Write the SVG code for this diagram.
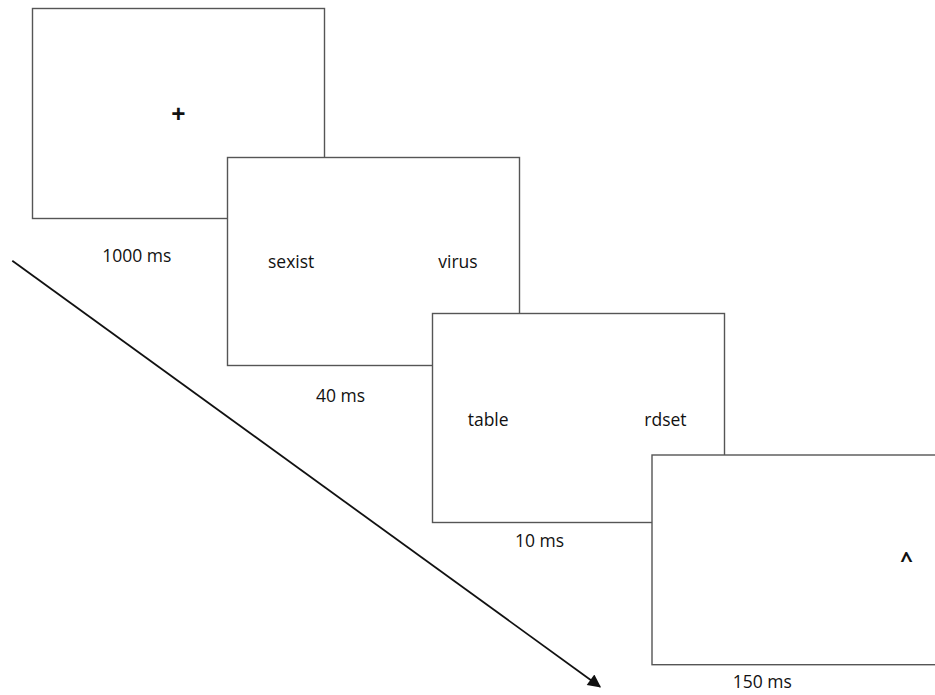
<svg xmlns="http://www.w3.org/2000/svg" width="935" height="695" viewBox="0 0 935 695">
  <defs>
    <style>
      .screen { fill: #ffffff; stroke: #555555; stroke-width: 1.4; }
      .lbl { font-family: "Open Sans", "Liberation Sans", sans-serif; font-size: 17.5px; fill: #111111; }
      .sym { font-family: "Open Sans", "Liberation Sans", sans-serif; font-weight: bold; fill: #111111; }
      .time { stroke: #111111; stroke-width: 1.8; fill: none; }
    </style>
    <marker id="arrowBig" viewBox="0 0 10 10" refX="9" refY="5" markerWidth="16" markerHeight="13" markerUnits="userSpaceOnUse" orient="auto">
      <path d="M0,0 L10,5 L0,10 z" fill="#111111"/>
    </marker>
  </defs>
  <rect width="935" height="695" fill="#ffffff"/>

  <!-- time axis -->
  <g id="connectors">
    <line class="time" x1="12.3" y1="260.7" x2="600" y2="686.7" marker-end="url(#arrowBig)"/>
  </g>

  <!-- fixation screen -->
  <g id="fixation">
    <rect class="screen" x="32.5" y="8.5" width="292" height="210"/>
    <text class="sym" x="178.3" y="123" text-anchor="middle" font-size="25">+</text>
    <text class="lbl" x="102.3" y="261.7">1000 ms</text>
  </g>

  <!-- prime screen -->
  <g id="prime">
    <rect class="screen" x="227.5" y="157.5" width="292" height="208"/>
    <text class="lbl" x="268" y="268.3">sexist</text>
    <text class="lbl" x="438.3" y="268.3">virus</text>
    <text class="lbl" x="316" y="401.7">40 ms</text>
  </g>

  <!-- mask screen -->
  <g id="mask">
    <rect class="screen" x="432.5" y="313.5" width="292" height="209"/>
    <text class="lbl" x="467.7" y="425.7">table</text>
    <text class="lbl" x="644.3" y="425.7">rdset</text>
    <text class="lbl" x="515" y="547.3">10 ms</text>
  </g>

  <!-- probe screen -->
  <g id="probe">
    <rect class="screen" x="652" y="455" width="300" height="209.7"/>
    <text class="sym" x="906.5" y="567" text-anchor="middle" font-size="22">^</text>
    <text class="lbl" x="732.7" y="687.7">150 ms</text>
  </g>
</svg>
